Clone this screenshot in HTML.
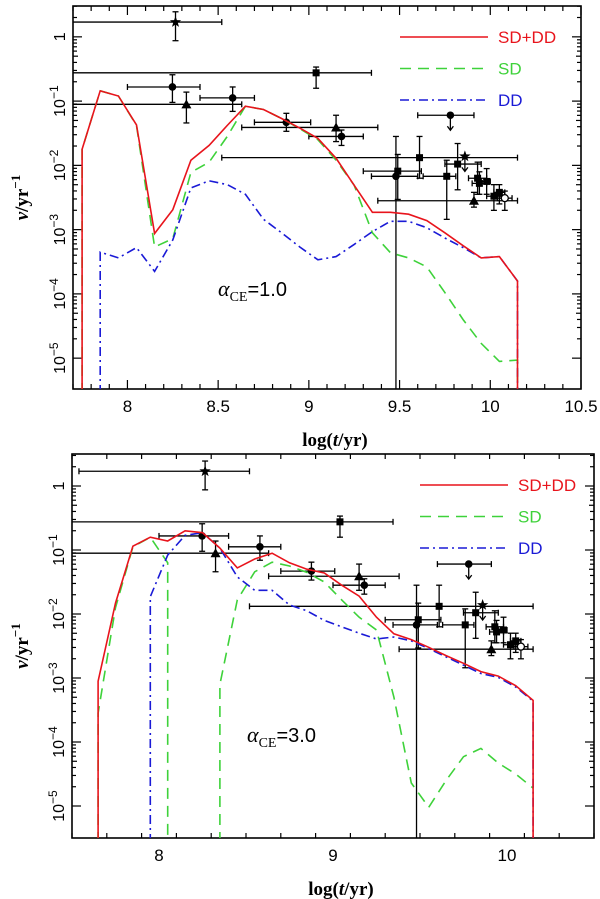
<!DOCTYPE html>
<html><head><meta charset="utf-8"><style>
html,body{margin:0;padding:0;background:#fff;width:600px;height:899px;overflow:hidden}
svg{display:block}
</style></head><body>
<svg id="c" width="600" height="899" viewBox="0 0 600 899" xmlns="http://www.w3.org/2000/svg" font-family="Liberation Sans, sans-serif"></svg>
<script>
// ---- data: model curves ----
const tTop = [7.75,7.85,7.95,8.05,8.15,8.25,8.35,8.45,8.55,8.65,8.75,8.85,8.95,9.05,9.15,9.25,9.35,9.45,9.55,9.65,9.75,9.85,9.95,10.05,10.15];
const topTotal = [-1.75,-0.84,-0.92,-1.37,-3.06,-2.69,-1.92,-1.69,-1.38,-1.08,-1.13,-1.27,-1.42,-1.58,-1.89,-2.31,-2.73,-2.73,-2.76,-2.86,-3.05,-3.25,-3.44,-3.42,-3.8];
const topSD = [-1.75,-0.84,-0.92,-1.38,-3.27,-3.14,-2.11,-1.95,-1.55,-1.08,-1.13,-1.27,-1.43,-1.6,-1.92,-2.31,-3.05,-3.36,-3.44,-3.58,-3.98,-4.4,-4.77,-5.05,-5.03];
const tTopDD = [7.85,7.95,8.05,8.15,8.25,8.35,8.45,8.55,8.65,8.75,8.85,8.95,9.05,9.15,9.25,9.35,9.45,9.55,9.65,9.75,9.85,9.95,10.05,10.15];
const topDD = [-3.35,-3.44,-3.28,-3.65,-3.16,-2.35,-2.24,-2.3,-2.45,-2.84,-3.05,-3.27,-3.47,-3.42,-3.23,-3.03,-2.87,-2.87,-2.97,-3.13,-3.28,-3.44,-3.42,-3.8];

const tBot = [7.65,7.75,7.85,7.95,8.05,8.15,8.25,8.35,8.45,8.55,8.65,8.75,8.85,8.95,9.05,9.15,9.25,9.35,9.45,9.55,9.65,9.75,9.85,9.95,10.05,10.15];
const botTotal = [-3.05,-1.83,-0.94,-0.8,-0.86,-0.7,-0.73,-0.97,-1.28,-1.14,-1.05,-1.2,-1.3,-1.36,-1.55,-1.72,-2.05,-2.31,-2.4,-2.52,-2.65,-2.77,-2.9,-2.97,-3.12,-3.35];
const tBotSD1 = [7.65,7.75,7.85,7.95,8.05];
const botSD1 = [-3.55,-1.9,-0.95,-0.8,-1.2];
const tBotSD2 = [8.35,8.45,8.55,8.65,8.75,8.85,8.95,9.05,9.15,9.25,9.35,9.45,9.55,9.65,9.75,9.85,9.95,10.05,10.15];
const botSD2 = [-3.1,-1.78,-1.34,-1.19,-1.25,-1.35,-1.5,-1.78,-2.05,-2.25,-3.3,-4.64,-5.02,-4.6,-4.23,-4.1,-4.33,-4.5,-4.72];
const tBotDD = [7.95,8.05,8.15,8.25,8.35,8.45,8.55,8.65,8.75,8.85,8.95,9.05,9.15,9.25,9.35,9.45,9.55,9.65,9.75,9.85,9.95,10.05,10.15];
const botDD = [-1.73,-1.08,-0.77,-0.73,-0.97,-1.42,-1.63,-1.63,-1.86,-1.95,-2.1,-2.2,-2.3,-2.39,-2.36,-2.42,-2.54,-2.67,-2.8,-2.93,-2.99,-3.14,-3.36];

// ---- data: observations ----
const ptT    = [8.265,9.04,8.325,8.248,8.58,8.876,9.15,9.18,9.61,9.78,9.82,9.86,9.48,9.49,9.76,9.91,9.93,9.94,9.98,10.02,10.05,10.08];
const ptLog  = [0.23,-0.56,-1.05,-0.78,-0.95,-1.33,-1.41,-1.55,-1.88,-1.22,-1.98,-1.86,-2.17,-2.09,-2.17,-2.55,-2.2,-2.28,-2.25,-2.48,-2.42,-2.51];
const ptXlo  = [7.54,7.3,7.3,8.0,8.40,8.70,8.63,9.0,8.52,9.60,9.75,9.86,9.345,9.30,9.63,9.38,9.88,9.90,9.95,9.98,10.02,10.04];
const ptXhi  = [8.52,9.345,8.63,8.40,8.70,9.01,9.38,9.30,10.15,9.91,9.95,9.86,9.60,9.62,9.81,10.15,9.98,9.98,10.0,10.06,10.08,10.12];
const ptYlo  = [-0.06,-0.80,-1.34,-1.02,-1.16,-1.47,-1.63,-1.69,-2.2,-1.22,-2.38,-1.86,-7,-2.53,-2.84,-2.65,-2.45,-2.45,-2.45,-2.7,-2.6,-2.7];
const ptYhi  = [0.39,-0.47,-0.86,-0.59,-0.78,-1.19,-1.22,-1.45,-1.55,-1.22,-1.66,-1.66,-1.55,-1.83,-1.92,-2.42,-1.95,-2.1,-2.05,-2.3,-2.3,-2.4];
const ptShape= ["star","square","tri","circle","circle","circle","tri","circle","square","circleUL","square","starUL","circle","square","square","tri","square","square","square","square","square","ocircle"];

const yTickVals = [0,-1,-2,-3,-4,-5];
const yTickLabels = ["1","10","10","10","10","10"];
const yTickExps = ["","\u22121","\u22122","\u22123","\u22124","\u22125"];

const NS="http://www.w3.org/2000/svg";
const svg=document.getElementById('c');
const SERIF='font-family:"Liberation Serif",serif;';
function mk(tag,attrs,parent){const e=document.createElementNS(NS,tag);for(const k in attrs)e.setAttribute(k,attrs[k]);(parent||svg).appendChild(e);return e;}

function panel(P){
  const g=mk('g',{});
  
  
  const X=t=>P.x0+(t-P.tmin)*(P.x1-P.x0)/(P.tmax-P.tmin);
  const Y=v=>P.y0+(P.vmax-v)*(P.y1-P.y0)/(P.vmax-P.vmin);
  const cid='clip'+P.id;
  const cp=mk('clipPath',{id:cid},g);
  mk('rect',{x:P.x0,y:P.y0,width:P.x1-P.x0,height:P.y1-P.y0},cp);
  const tk=mk('g',{stroke:'#000','stroke-width':1.2},g);
  
  
  for(let d=Math.ceil(P.vmin);d<=Math.floor(P.vmax)+1;d++){
    for(let m=1;m<10;m++){
      const v=d+Math.log10(m); if(v<P.vmin||v>P.vmax)continue;
      const L=m===1?9:(m===5?5:4);
      mk('line',{x1:P.x0,x2:P.x0+L,y1:Y(v),y2:Y(v)},tk);
      mk('line',{x1:P.x1,x2:P.x1-L,y1:Y(v),y2:Y(v)},tk);
    }
  }
  for(let i=0;;i++){
    const t=Math.round((P.tmin+i*P.minor)*100)/100; if(t>P.tmax+1e-6)break;
    const maj=Math.abs(t/P.major-Math.round(t/P.major))<1e-6;
    const L=maj?9:5;
    mk('line',{x1:X(t),x2:X(t),y1:P.y1,y2:P.y1-L},tk);
    mk('line',{x1:X(t),x2:X(t),y1:P.y0,y2:P.y0+L},tk);
  }
  P.xLabels.forEach(t=>{
    const tx=mk('text',{x:X(t),y:P.y1+23,'font-size':17,'text-anchor':'middle'},g);
    
    
    tx.textContent=String(t);
  });
  yTickVals.forEach((v,i)=>{
    const tx=mk('text',{transform:`translate(${P.x0-8},${Y(v)}) rotate(-90)`,'font-size':16,'text-anchor':'middle'},g);
    
    
    const a=mk('tspan',{},tx); a.textContent=yTickLabels[i];
    if(yTickExps[i]){const b=mk('tspan',{dy:-7,'font-size':12},tx);b.textContent=yTickExps[i];}
  });
  const fr=mk('rect',{x:P.x0,y:P.y0,width:P.x1-P.x0,height:P.y1-P.y0,fill:'none',stroke:'#000','stroke-width':1.6},g);
  
  
  const xt=mk('text',{x:(P.x0+P.x1)/2+8,y:P.y1+57,'font-size':19,'font-weight':'bold','text-anchor':'middle',style:SERIF},g);
  
  
  xt.innerHTML='log(<tspan font-style="italic">t</tspan>/yr)';
  const yt=mk('text',{transform:`translate(28,${(P.y0+P.y1)/2}) rotate(-90)`,'font-size':19,'font-weight':'bold','text-anchor':'middle',style:SERIF},g);
  
  
  yt.innerHTML='<tspan font-style="italic">ν</tspan>/yr<tspan dy="-8" font-size="13">−1</tspan>';
  const ob=mk('g',{'clip-path':`url(#${cid})`,stroke:'#000','stroke-width':1.3,fill:'#000'},g);
  
  
  ptT.forEach((t,i)=>{
    const pg=mk('g',{},ob);
    
    
    const cx=X(t),cy=Y(ptLog[i]);
    const xa=X(ptXlo[i]),xb=X(ptXhi[i]);
    if(xb-xa>1){mk('line',{x1:xa,x2:xb,y1:cy,y2:cy},pg);
      mk('line',{x1:xa,x2:xa,y1:cy-3,y2:cy+3},pg);mk('line',{x1:xb,x2:xb,y1:cy-3,y2:cy+3},pg);}
    const s=ptShape[i];
    if(s.endsWith('UL')){
      const ay=cy+15;
      mk('line',{x1:cx,x2:cx,y1:cy,y2:ay},pg);
      mk('polyline',{points:`${cx-3},${ay-4} ${cx},${ay} ${cx+3},${ay-4}`,fill:'none'},pg);
    } else {
      const ya=Y(ptYhi[i]),yb=Y(ptYlo[i]);
      mk('line',{x1:cx,x2:cx,y1:ya,y2:yb},pg);
      mk('line',{x1:cx-3,x2:cx+3,y1:ya,y2:ya},pg);mk('line',{x1:cx-3,x2:cx+3,y1:yb,y2:yb},pg);
    }
    if(s.startsWith('star')){
      let p=[];for(let k=0;k<10;k++){const r=k%2?2.4:6,a=-Math.PI/2+k*Math.PI/5;p.push((cx+r*Math.cos(a)).toFixed(1)+','+(cy+r*Math.sin(a)).toFixed(1));}
      mk('polygon',{points:p.join(' '),stroke:'none'},pg);
    } else if(s==='square'){mk('rect',{x:cx-3.5,y:cy-3.5,width:7,height:7,stroke:'none'},pg);}
    else if(s==='tri'){mk('polygon',{points:`${cx},${cy-5} ${cx-5},${cy+4} ${cx+5},${cy+4}`,stroke:'none'},pg);}
    else if(s==='ocircle'){mk('circle',{cx,cy,r:3.5,fill:'#fff'},pg);}
    else {mk('circle',{cx,cy,r:3.8,stroke:'none'},pg);}
  });
  const cg=mk('g',{'clip-path':`url(#${cid})`,fill:'none','stroke-width':1.6},g);
  P.series.forEach(S=>{
    let pts=S.t.map((t,i)=>X(t).toFixed(1)+','+Y(S.v[i]).toFixed(1));
    if(S.dropStart)pts.unshift(X(S.t[0]).toFixed(1)+','+(P.y1+5));
    if(S.dropEnd)pts.push(X(S.t[S.t.length-1]).toFixed(1)+','+(P.y1+5));
    const pl=mk('polyline',{points:pts.join(' '),stroke:S.color,'stroke-dasharray':S.dash||''},cg);
    
    
  });
  const lg=mk('g',{},g);
  
  
  const L=[['SD+DD','#e8141c',''],['SD','#3ed23a','11,7'],['DD','#1a1ad6','9,4,2,4']];
  L.forEach((e,i)=>{
    const yy=P.legY+i*31.5;
    const ln=mk('line',{x1:P.legX,x2:P.legX+88,y1:yy,y2:yy,stroke:e[1],'stroke-width':1.6,'stroke-dasharray':e[2]},lg);
    
    
    const tx=mk('text',{x:P.legX+98,y:yy+6,'font-size':17,fill:e[1]},lg);
    
    
    tx.textContent=e[0];
  });
  const al=mk('text',{x:P.alX,y:P.alY,'font-size':20},g);
  
  
  al.innerHTML='<tspan style=\'font-family:"Liberation Serif",serif\' font-style="italic" font-size="22">α</tspan><tspan dy="5" font-size="14" style=\'font-family:"Liberation Serif",serif\'>CE</tspan><tspan dy="-5">='+P.alpha+'</tspan>';
}

panel({id:1,name:'panel-alpha-1',x0:73,x1:581,y0:6,y1:389,tmin:7.7,tmax:10.5,vmin:-5.48,vmax:0.48,
  minor:0.1,major:0.5,xLabels:[8,8.5,9,9.5,10,10.5],legX:400,legY:37,alX:218,alY:296,alpha:'1.0',
  series:[
    {name:'sd-curve',t:tTop,v:topSD,color:'#3ed23a',dash:'11,7',dropEnd:true,dropStart:true},
    {name:'dd-curve',t:tTopDD,v:topDD,color:'#1a1ad6',dash:'9,4,2,4',dropStart:true,dropEnd:true},
    {name:'sd-dd-curve',t:tTop,v:topTotal,color:'#e8141c',dropStart:true,dropEnd:true}
  ]});
panel({id:2,name:'panel-alpha-3',x0:72,x1:594,y0:454,y1:838,tmin:7.5,tmax:10.5,vmin:-5.5,vmax:0.5,
  minor:0.2,major:1,xLabels:[8,9,10],legX:420,legY:485,alX:247,alY:742,alpha:'3.0',
  series:[
    {name:'sd-curve-early',t:tBotSD1,v:botSD1,color:'#3ed23a',dash:'11,7',dropStart:true,dropEnd:true},
    {name:'sd-curve-late',t:tBotSD2,v:botSD2,color:'#3ed23a',dash:'11,7',dropStart:true},
    {name:'dd-curve',t:tBotDD,v:botDD,color:'#1a1ad6',dash:'9,4,2,4',dropStart:true,dropEnd:true},
    {name:'sd-dd-curve',t:tBot,v:botTotal,color:'#e8141c',dropStart:true,dropEnd:true}
  ]});
</script>
</body></html>
